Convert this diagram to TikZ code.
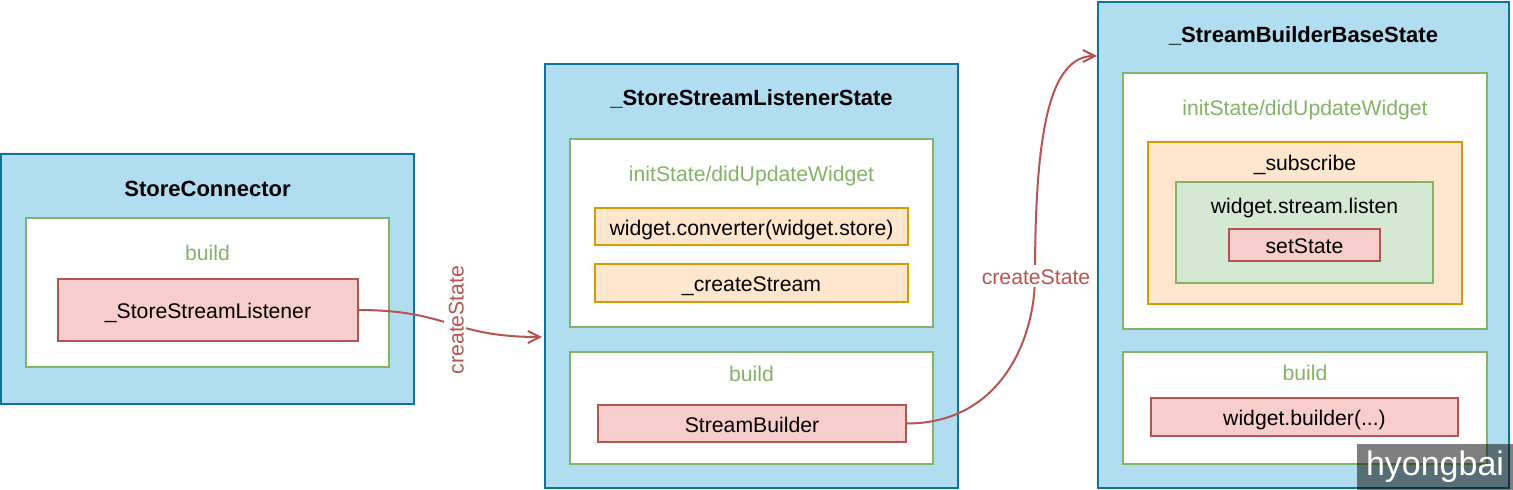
\documentclass[tikz,border=0pt]{standalone}
\usepackage{fontspec}
\setmainfont{Liberation Sans}
\usetikzlibrary{arrows.meta}
\definecolor{bluefill}{HTML}{B1DDF0}
\definecolor{blueline}{HTML}{10739E}
\definecolor{greenline}{HTML}{82B366}
\definecolor{greenfill}{HTML}{D5E8D4}
\definecolor{orangefill}{HTML}{FFE6CC}
\definecolor{orangeline}{HTML}{D79B00}
\definecolor{redfill}{HTML}{F8CECC}
\definecolor{redline}{HTML}{B85450}
\tikzset{
  x=0.5pt, y=-0.5pt,
  every node/.style={inner sep=0pt, outer sep=0pt, text height=0.86em, text depth=0pt,
    font=\fontsize{10.6pt}{12pt}\selectfont},
  classbox/.style={draw=blueline, fill=bluefill, line width=1pt},
  methodbox/.style={draw=greenline, fill=white, line width=1pt},
  listenbox/.style={draw=greenline, fill=greenfill, line width=1pt},
  callbox/.style={draw=orangeline, fill=orangefill, line width=1pt},
  widgetbox/.style={draw=redline, fill=redfill, line width=1pt},
  titletext/.style={font=\fontsize{11pt}{13pt}\selectfont\bfseries},
  methodtext/.style={text=greenline},
  flow/.style={draw=redline, line width=1pt, -{Straight Barb[length=6pt,width=6pt]}},
  flowlabel/.style={text=redline, fill=white, inner sep=1pt},
}
\begin{document}
\begin{tikzpicture}
\useasboundingbox (0,0) rectangle (1513,490);

% ---- StoreConnector ----
\node[classbox, minimum width=206.5pt, minimum height=125pt] (A) at (207.5,279) {};
\node[titletext] (tA) at (207.5,188) {StoreConnector};
\node[methodbox, minimum width=181.5pt, minimum height=74.5pt] (Ab) at (207.5,292.5) {};
\node[methodtext] (Abl) at (207.5,252) {build};
\node[widgetbox, minimum width=150pt, minimum height=31pt] (ssl) at (208,310) {\_StoreStreamListener};

% ---- _StoreStreamListenerState ----
\node[classbox, minimum width=206.5pt, minimum height=212pt] (B) at (751.5,276) {};
\node[titletext] (tB) at (751.5,97) {\_StoreStreamListenerState};
\node[methodbox, minimum width=181.5pt, minimum height=94pt] (Bi) at (751.5,233) {};
\node[methodtext] (Bil) at (751.5,173) {initState/didUpdateWidget};
\node[callbox, minimum width=156.5pt, minimum height=18.5pt] (conv) at (751.5,226.5) {widget.converter(widget.store)};
\node[callbox, minimum width=156.5pt, minimum height=19pt] (cs) at (751.5,283) {\_createStream};
\node[methodbox, minimum width=181.5pt, minimum height=56pt] (Bb) at (751.5,408) {};
\node[methodtext] (Bbl) at (751.5,373) {build};
\node[widgetbox, minimum width=154pt, minimum height=18.5pt] (sb) at (752,423.5) {StreamBuilder};

% ---- _StreamBuilderBaseState ----
\node[classbox, minimum width=205.5pt, minimum height=243pt] (C) at (1303.5,245) {};
\node[titletext] (tC) at (1303.5,34) {\_StreamBuilderBaseState};
\node[methodbox, minimum width=182pt, minimum height=128pt] (Ci) at (1305,201) {};
\node[methodtext] (Cil) at (1305,107) {initState/didUpdateWidget};
\node[callbox, minimum width=157pt, minimum height=81pt] (sub) at (1305,223) {};
\node (subl) at (1305,162) {\_subscribe};
\node[listenbox, minimum width=128.5pt, minimum height=50.5pt] (lis) at (1304.5,232.5) {};
\node (lisl) at (1304.5,205) {widget.stream.listen};
\node[widgetbox, minimum width=75.5pt, minimum height=16pt] (ss) at (1304.5,245) {setState};
\node[methodbox, minimum width=182pt, minimum height=56pt] (Cb) at (1305,408) {};
\node[methodtext] (Cbl) at (1305,372) {build};
\node[widgetbox, minimum width=153.5pt, minimum height=19pt] (wb) at (1304.5,417) {widget.builder(...)};

% ---- connectors ----
\coordinate (e1) at (542,337);
\coordinate (e2) at (1097,56);
\draw[flow] (ssl.east) .. controls (450,310) and (450,337) .. (e1);
\node[flowlabel, rotate=90] (l1) at (455,320) {createState};
\draw[flow] (sb.east) .. controls (1000,424) and (1035,340) .. (1035,276)
  .. controls (1035,130) and (1050,56) .. (e2);
\node[flowlabel] (l2) at (1036,276) {createState};

% ---- watermark ----
\node[fill=black, fill opacity=0.5, text opacity=1, text=white,
  minimum width=78pt, minimum height=23pt,
  font=\fontsize{17pt}{20pt}\selectfont] (wm) at (1435,467) {hyongbai};
\end{tikzpicture}
\end{document}
